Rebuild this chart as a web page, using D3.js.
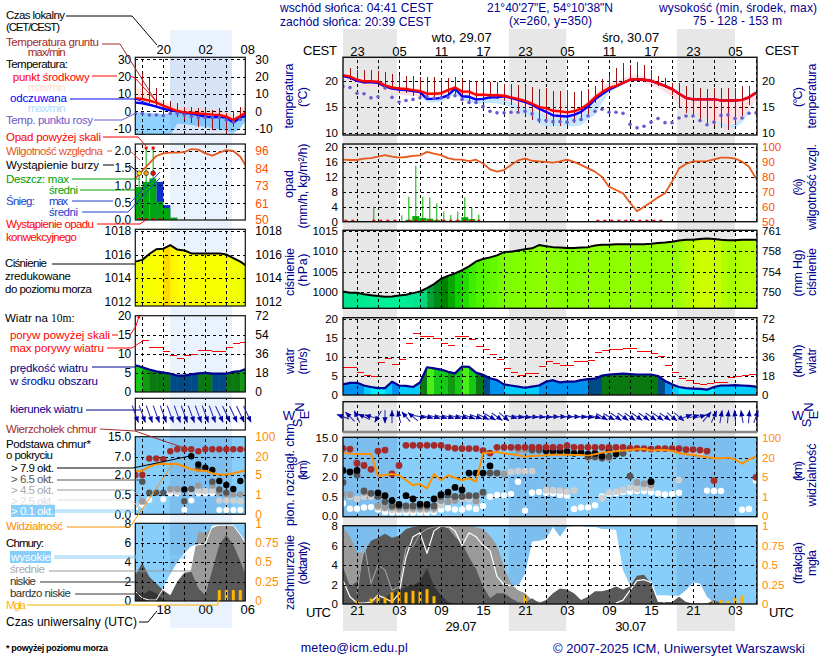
<!DOCTYPE html>
<html>
<head>
<meta charset="utf-8">
<script src="https://cdn.jsdelivr.net/npm/d3@7"></script>
<style>
  body { margin: 0; background: #fff; }
  text { font-family: "Liberation Sans", Arial, sans-serif; }
</style>
</head>
<body>
<div id="chart"></div>
<script>
// MAIN COLUMN DATA - one value per hour, hour 0 = 19 UTC on 28.07
const midTemp = [21.2,20.9,20.3,20,20,19.9,19.2,18.8,18.6,18.5,
  18.3,18.1,17.6,17.6,17.7,18.3,18.8,18,18,17.4,
  17.4,17.3,17.3,17.2,16.9,16.6,16.2,15.7,15,14.8,
  14.3,14.2,14,14.2,14.7,15.6,16.9,17.9,18.7,19.1,
  19.7,20.3,20.4,20.3,20.1,19.6,19.1,18.5,17.6,16.8,
  16.5,16.5,16.5,16.5,16.3,16.3,16.3,16.4,16.9,17.8];
const feelsTemp = [21,20.7,20.1,19.8,19.8,19.7,19,18.6,18.4,18.3,
  18.1,17.9,16.6,16.6,16.8,17.3,18.6,17.1,17,16.5,
  16.6,16.9,16.9,17.1,16.8,16.4,16,15.5,14.7,14.1,
  13.4,13.3,13.2,13.5,14.1,15.1,16.5,17.5,18.4,19,
  19.7,20.3,20.4,20.3,20.1,19.6,19.1,18.5,17.6,16.8,
  16.5,16.5,16.5,16.5,16.3,16.3,16.3,16.4,16.9,17.8];
const tempMax = [21.6,21.3,20.7,20.4,20.4,20.3,19.6,19.2,19,18.9,
  18.7,18.5,18,18,18.1,18.7,19.2,18.4,18.4,17.8,
  17.8,17.7,17.7,17.6,17.3,17,16.6,16.1,15.4,15.2,
  14.7,14.6,14.4,14.6,15.1,16.1,17.6,18.8,19.6,20,
  20.6,21.1,21.2,21,20.6,20,19.5,18.9,18,17.2,
  16.9,16.9,16.9,16.9,16.7,16.7,16.7,16.8,17.4,18.3];
const tempMin = [20.4,20,19.6,19,18.8,18.6,18.2,17.9,17.5,17.3,
  17.2,17.2,17,17,17.1,17.8,18.2,17.5,17.3,17,
  16.8,16.8,16.7,16.4,16,15.5,15,14.5,14,13.5,
  13,12.9,12.9,13.2,13.6,14.6,15.7,16.9,17.9,18.7,
  19.3,19.9,20,19.8,19.3,18.8,18,17,15.5,14.5,
  14,13.4,13,12.4,12,11.6,11.8,13,14.5,16.5];
const feelsMin = [20.4,20,19.6,19,18.8,18.6,18.2,17.9,17.5,17.3,
  17.2,17.2,15.9,15.9,16,16.7,17.6,16.4,16,15.7,
  15.7,15.8,15.7,15.4,15,14.3,13.5,12.9,11.7,11.3,
  11.3,11.3,11.3,11.3,11.5,12.6,13.5,15.8,17.7,18.7,
  19.3,19.9,20,19.8,19.3,18.8,18,17,15.5,14.5,
  14,13.4,13,12.4,11.4,11,11.1,12,14,16.5];
const groundMax = [null,22.5,22.2,22.2,22.1,22,21.8,21.4,21.3,21.1,
  21,20.9,20.8,20.8,20.5,20.6,20.8,20.4,20.3,20,
  19.9,19.8,19.8,19.5,19.4,19.2,19,18.9,18.5,18.8,
  18.2,18.2,18.3,18,18.2,18.5,19.1,20.4,21.2,22.5,
  23.5,23.1,23.7,23.1,22.2,21,20.6,19.7,19.6,19.1,
  19.3,18.7,18.5,18.7,18.8,18.7,18.8,19.1,19.1,null];
const groundMin = [null,20.3,19.9,19.5,19.6,19.4,18.9,18.5,17.8,17.8,
  17.2,17.1,16.5,16.5,16.5,16.9,17.6,16.4,16.2,16,
  16.2,16.5,16.5,16.2,15.4,14.2,13.2,12.6,12,11.9,
  11.4,11.4,11.4,11.9,12.9,13.5,15.8,17.7,18.7,19.1,
  19.6,20,20,19.9,19.6,19.1,18.7,17.4,15.1,13.8,
  13.2,12.6,11.9,11.4,11,10.6,11.6,13.2,15.4,null];
const dewPoint = [19,18.8,17.7,17.6,16.8,17,18.7,16.9,16,16.3,
  16.5,16.8,17,16.7,16.8,16.9,17.2,16.5,15.9,15.9,
  15.1,14.2,13.9,13.9,14,14,14.2,13.7,12.5,12.4,
  12.2,12.2,12.1,12.4,12.6,13.3,14.2,14.6,14,14,
  13.8,11.7,11,11.3,12.1,12.8,12,12,12.9,13.3,
  13.3,12.4,11.6,12.1,13.4,13.5,12.8,12.9,13.8,13.9];
const humidity = [91.5,91.3,91.3,92.2,92.6,93.5,94.6,93.5,92.9,93.3,
  94,94.4,96.7,95.5,94.6,92.6,91.5,91.5,90.6,91.5,
  89,85,83.5,84.6,88,91,92.2,90.8,90.4,90,
  89.5,90.4,91.5,90,88,85.7,83.5,80,73.4,71.2,
  69,62.7,57,60,63,66.3,69,76.8,85.7,88.6,
  90.4,90.4,90.6,91.7,92.9,92.9,92.2,90.2,86.8,79];
const pressure = [1000.2,999.9,999.9,999.5,999.3,999.1,998.9,999,999.2,999.4,
  999.8,1000.2,1001,1002,1003.3,1004,1004.6,1005.4,1006.3,1007.5,
  1008.1,1008.5,1009,1009.8,1009.9,1010.2,1010.5,1010.7,1011.5,1011.2,
  1011,1010.9,1010.8,1010.8,1010.9,1011,1011.4,1011.6,1011.6,1011.7,
  1011.7,1011.7,1011.7,1011.7,1011.8,1012,1012.1,1012.3,1012.6,1012.8,
  1012.8,1013,1013.1,1013,1012.8,1012.7,1012.7,1012.8,1012.8,1012.8];
const windSpeed = [2.8,3.2,3.2,2.5,2.1,1.8,1.8,3.5,2.5,2.4,
  2.1,3.3,7.3,7,6.7,6.1,5.7,7.5,7.4,5.9,
  5.3,4.4,3.9,2.8,2.5,2.2,1.9,2.2,2.5,3.5,
  3.9,3.3,3.5,3.5,3.9,4.2,4.3,5.1,5.4,5.5,
  5.6,5.5,5.4,5.4,5.4,5,3.7,2.8,2.1,1.8,
  1.7,1.6,1.4,2.1,2.5,2.5,2.6,2.5,2.4,2.2];
const windGust = [7.3,7.3,6,5.2,4.8,8.6,9.6,8.1,9.4,13.6,
  16.2,15.4,15.4,14.9,13.6,13,15.4,15.4,14.6,12.7,
  12,10.7,9.4,7,6,5.2,5.7,5.7,7.5,8.7,
  8.3,7.8,7.8,8.7,8.7,9.1,11.3,11.6,12.1,12.1,
  12.3,12.3,11.5,11.5,10.8,10.2,7.8,5.8,4.4,3.9,
  3.1,2.8,3.1,3.4,3.4,4.5,4.9,5.1,5.4];
const windBearing = [290,315,335,295,285,210,180,0,345,320,
  310,100,105,105,105,105,105,105,110,110,
  115,120,125,130,105,100,100,95,95,95,
  90,90,90,90,95,100,105,120,120,125,
  125,125,125,125,125,125,125,130,130,70,
  75,75,40,25,10,5,355,350,5,20];
const visibility = [42.7,38.7,37,37,37,6,6.8,7.6,6.6,4.4,
  3.4,3.6,2.7,7.6,4.4,6.6,4.9,4.4,4.8,4.1,
  40,42.7,45.3,40,36,32,26.7,29.3,30.7,32,
  34.7,34.7,34.7,33.3,33.3,30.7,36,42.7,45.3,48,
  50.7,53,56,57,50.7,53,53,49,40,36,
  33.3,29.3,24,20,20,22.7,19.2,15.8,19.2,26.7];
const cloudHigh = [2.4,0.75,0.1,0.1,0.2,0.9,0.6,0.2,1.1,4.8,
  6.9,7.3,5.2,7.5,8,8,7.5,6,7.3,6.9,
  6,5.5,2.8,2,1.9,1.8,3.1,6.4,6.5,6.7,
  7.9,6.9,7.9,8,8,7.9,7.9,7.7,7.7,7.6,
  3.5,1.9,1.4,0.9,0.9,0.9,0.9,0.85,0.85,1.4,
  2.2,2.1,0.75,0.1,0,0,0,0,0,0];
const cloudMid = [7.9,6.9,5.3,5.2,6,6,6,6,6,6,
  6,6,6,6,7,7.9,8,8,8,7.9,
  7.7,7,6,3.8,2.1,1.4,1.1,0.4,0.25,0.1,
  0,0,0,0,0,0,0,0,0,0,
  0,0,0,0,0,0,0,0,0,0,
  0,0,0,0,0,0,0,0,0,0];
const cloudLow = [3.8,1.8,2.3,5.2,6.5,6.8,7.2,6.8,7,7.7,
  7.9,8,8,8,8,7.8,6.9,6.2,4.8,3.6,
  1.8,0.6,1.1,1.1,0.6,0.2,0.1,0.6,0.1,0.4,
  1.1,1.6,1.5,1.1,0.4,0.75,1.3,1.3,1.5,1.8,
  1.5,1.8,2.9,3,2.1,0.2,0.2,0.2,0.75,0.2,
  0.05,0.05,0.05,0.4,0.07,0,0,0,0,0];
const cloudVeryLow = [0,0,0,0,0,0.3,0.7,1.1,1.4,1.8,
  1.9,2.3,3.7,1.8,0.9,0.2,0,0,0,0];
const cloudWhiteLine = [2.4,0.75,0.1,0.1,0.2,0.9,0.6,0.2,1.1,4.8,
  6.9,7.3,5.2,7.5,8,8,7.5,6,7.3,6.9,
  6,5.5,2.8,2,1.9,1.8,null,null,null,null,
  null,null,null,null,null,null,null,null,null,0.1,
  0.4,1.4,2.4,2.5,2.2,0.4,0.2];
const cloudGreyLine = [null,null,1.1,6.2,2.1,4,3.5,1.4,1.8,5.7,
  5.9,7.2,7.7,7.9,8,8];
const fog = [[2,.04],[4,.07],[5,.11],[6,.085],[7,.15],[8,.16],[9,.15],[10,.17],[11,.16],[12,.19],[13,.1],
  [26,.11],[53,.04],[54,.05],[55,.04],[56,.08],[57,.11]];
// PRECIPITATION - hour, value
const rainMax = [[4,4],[8,1.7],[9,6.7],[10,15],[11,6.7],[12,6.5],[13,4.9],[14,2.7],[15,1.8],[16,2.7],[17,6.5],[18,3.8],[19,1.9]];
const rainMean = [[9,.5],[10,1.5],[11,1],[12,.8],[13,.4],[14,.3],[15,.2],[16,.3],[17,1.2],[18,.7],[19,.2]];
const convectiveHours = [0,1,4,5,6,7,9,10,11,12,13,14,15,16,17,18,19,36,37,38,39,40,41,42,43,44,45];
// CLOUD BASE DOTS - hour, km
const cloudTop = [[0,11],[1,10.7],[2,5.7],[3,5.1],[4,4.1],[5,9.9],[6,10.3],[7,2.9],[8,5.1],[9,12.2],[10,12.2],[11,12.2],[12,12.2],[13,12.2],[14,12.2],
  [15,11.4],[16,11],[17,10.9],[18,10.9],[19,10.9],[20,10.1],[21,9.1],[22,11.4],[23,11.4],[24,11.4],[25,11.4],[26,11.4],[27,11.4],[28,11.4],[29,11.4],[30,11.4],[31,11.4],
  [32,12.1],[33,11.4],[34,11.4],[35,11.4],[36,11.4],[37,11.4],[38,11.4],[39,11.4],[40,11.4],[41,11],[42,11],[43,10.9],[44,10.7],[45,10.9],[46,10.9],[47,10.9],[48,10.9],
  [49,10.5],[50,10.5],[51,10.3],[52,9.9],[53,1.75],[59,2]];
const base79 = [[0,3.8],[1,3.4],[2,3.8],[5,.8],[6,.58],[7,.4],[8,.3],[9,.58],[10,.44],[11,.31],[12,.3],[13,.44],[14,.66],[15,.86],[16,1.22],[17,1.02],
  [18,3.1],[19,3.1],[20,3.1],[21,5],[29,10],[30,9.8],[31,9.7],[32,9.8],[33,9],[34,9.3],[35,8.7],[36,9],[37,7.9],[38,10.3],[39,8.7],[44,1.66]];
const base65 = [[0,1.6],[2,2.6],[3,.94],[4,.76],[5,.52],[6,.37],[7,.26],[8,.26],[9,.26],[10,.26],[11,.26],[12,.26],[13,.26],[14,.52],[15,.63],[16,.52],[17,.52],[18,.58],[19,.58],[20,.86],
  [21,3.1],[22,3.1],[27,10.3],[28,10.3],[35,7.7],[36,7.7],[37,7.1],[38,7.7],[40,9],[41,2.3],[44,1.66]];
const base45 = [[0,.7],[1,.66],[3,.84],[4,.76],[5,.26],[6,.22],[7,.22],[8,.2],[9,.2],[10,.2],[11,.2],[12,.2],[13,.2],[14,.4],[15,.37],[16,.4],[17,.5],[18,.58],[19,.39],[20,.76],
  [21,3.1],[22,3.1],[23,2.9],[25,10.3],[26,10.3],[35,7.3],[36,7.3],[37,7],[38,7],[40,9],[42,1.6],[43,1.5],[44,1.4]];
const base25 = [[0,.63],[1,.5],[2,.44],[3,.5],[4,.5],[5,.22],[6,.2],[7,.16],[8,.16],[9,.16],[10,.16],[11,.16],[12,.16],[13,.16],[14,.28],[16,.46],[17,.46],[18,.43],[19,.37],
  [22,3],[24,3.4],[25,3.6],[26,3.6],[27,3.6],[29,1],[30,1],[31,.97],[32,.89],[33,.97],[37,.46],[38,.84],[39,.89],[40,1],[41,1.2],[42,1.1],[43,1.2],[44,1.2],[48,1.8],[50,9.7],[51,9]];
const base01 = [[0,.33],[1,.19],[2,.19],[3,.22],[4,.23],[5,.17],[6,.1],[7,.09],[8,.09],[9,.09],[10,.09],[11,.09],[12,.09],[13,.11],[14,.17],[15,.2],[16,.17],[17,.17],[18,.22],[19,.18],
  [20,.26],[21,.5],[22,.63],[23,.6],[24,.72],[25,1.66],[26,.14],[27,.8],[28,.86],[29,.8],[30,.76],[31,.63],[32,.58],[33,.18],[34,.22],[35,.22],[36,.28],[37,.52],[38,.72],[39,.76],
  [40,.86],[41,.88],[42,.94],[43,.94],[44,.84],[45,.76],[46,.67],[47,.72],[48,.8],[52,.97],[53,.94],[54,.94],[57,.16],[58,.18],[59,1.75]];

// LEFT (LEGEND) COLUMN DATA - hour 0 = 14 UTC
const leftMid = [7.5,7.1,6.2,5,3.3,1.7,0.2,-0.6,-0.8,-1.2,-1.5,-1.9,-2.1,-3,-5,-2.7,-0.2];
const leftFeels = [5,4.6,3.7,2.7,1.5,.6,0,-.8,-1.3,-2.1,-3,-3.5,-3.1,-3.6,-6.5,-3.5,-2.5];
const leftMax = [14.2,12.3,10,6.9,5.6,3.7,2.7,2.3,1.7,1.7,1.7,1.2,.8,-.2,-2.1,.8,3.7];
const leftFeelsTop = [-.5,-.7,-1,-1.2,-1.5,-1,-.2,-.8,-1.3,-2.1,-3,-3.5,-3.1,-3.6,-6.5,-3.5,-2.5];
const leftFeelsMin = [-14,-14,-14,-14,-14,-14,-7,-7.4,-7.9,-8.5,-8.8,-9.8,-10.4,-11.2,-12.7,-9.8,-4];
const leftGroundMax = [null,22.3,19.2,13.3,6.5,6,4.6,2.7,2.3,1.7,1.7,.8,1.7,-1.2,.4,2.7,null];
const leftGroundMin = [null,8.5,4.6,1.7,-2.1,-2.1,-3,-5,-6.9,-8.8,-8.8,-10.8,-10.8,-12.7,-8.8,-5.4,null];
const leftDew = [-1.2,-1.2,-2.1,-2.1,-2.5,-1.2,-1.2,-2.1,-3,-3.5,-3.5,-3.5,-3.5,-5,-6.3,-4.6,-1.2];
const leftHumidity = [77.6,82.7,87.6,92.5,94.2,94.7,94.7,95,97.1,96.7,94.2,92.7,94.7,96.4,95.8,92,84.3];
const leftRainMean = [.95,1.1,1.2,.53,.34,.07];
const leftSnowMean = [0,0,0,1.1,.43,0];
const leftRainMax = [1.35,2.1,2.1];
const leftOverScale = [1,2];
const leftThunder = ["#ffe000","#f0a000","#e01010"];
const leftConvective = [0,1,2,3];
const leftPressure = [1015.4,1015.55,1016.05,1016.45,1016.5,1016.8,1016.42,1016.35,1016.1,1016.1,1016.1,1016.1,1016.1,1016,1015.7,1015.4,1015];
const leftWind = [7,6.5,5.9,5.4,5.1,4.8,4.3,4.3,4.6,4.9,5,4.8,4.8,4.8,5.3,5.5,6.2];
const leftGust = [null,13.5,11.6,11.6,10.6,9.6,8.8,9.6,9.9,10.8,10.8,10.6,10.6,11.7,12.6,13];
const leftBearing = [160,160,160,160,160,160,160,160,160,160,160,160,155,155,155,155,155];
const leftVisibility = [8.3,8.5,11.8,14,14,14,14,11.8,9.9,8.5,8.5,6.4,5.5,5.5,6.4,7.7,9.4];
const leftCloudTop = [[0,2],[1,2],[2,6.5],[3,6.5],[4,6.3],[5,9.2],[6,10],[7,10],[8,10],[9,9.2],[10,10],[11,10],[12,10],[13,10],[14,10],[15,10],[16,10]];
const leftBase79 = [[7,.92],[8,7.2],[9,4.9],[10,4],[11,3.4],[12,1.55],[13,1.25],[14,.95],[15,1.55],[16,1.9]];
const leftBase65 = [[1,1.5],[2,.68],[3,.68],[4,.68],[7,.34],[8,.95],[9,3.8],[11,1.5],[12,.92],[13,.68]];
const leftBase45 = [[1,.34],[5,.95],[6,.95],[9,1.2],[11,1.2],[12,.68],[13,.55],[14,.55],[15,.55]];
const leftBase25 = [[0,.24],[1,.32],[5,.83],[6,.75],[8,.75],[9,.83],[10,.8],[11,.83],[12,.36],[13,.36],[14,.36],[15,.34]];
const leftBase01 = [[0,.18],[1,.24],[2,.37],[4,.39],[5,.62],[6,.62],[7,.12],[8,.36],[9,.62],[10,.62],[11,.62],[12,.11],[13,.11],[14,.11],[15,.11]];
const leftCloudHigh = [1,.3,.1,.1,1.3,2.7,3.9,4.9,5.6,5.8,5.9,7.7,7.8,7.8,7.8,6.8,5.9];
const leftCloudMid = [0,0,0,0,0,0,0,0,3.4,7.1,7,7.5,7.9,7.9,7.8,6.8,5.6];
const leftCloudLow = [2.7,3.9,2.5,1.8,1.1,.6,2,2.9,3,1.3,.6,3.2,5.8,6.8,5.8,4.1,2.3];
const leftCloudVeryLow = [1.1,.6,1.1,.8,.1,0];
const leftFog = [[12,.14],[13,.14],[14,.14],[15,.14]];

// AXIS TICKS AND LABELS
const localHours = [2,8,14,20,26,32,38,44,50,56];
const localLabels = ["23","05","11","17","23","05","11","17","23","05"];
const utcLabels = ["21","03","09","15","21","03","09","15","21","03"];
const leftLabelHours = [4,10,16];
const leftLocalLabels = ["20","02","08"];
const leftUtcLabels = ["18","00","06"];
const nightHours = [[0,7.7],[23.7,31.9],[47.7,56]];
const leftNightHours = [4.95,13.8];

const FRAME = {width: 820, height: 660};
const NAVY = "#000090", ORANGE = "#ff8c00", RH = "#e8581c";
const MAIN_TICK = 11.5, LEFT_TICK = 12;

const svg = d3.select("#chart").append("svg")
  .attr("width", FRAME.width).attr("height", FRAME.height);
const defs = svg.append("defs");
let clipCount = 0;

// SCALES
const xMain = d3.scaleLinear().domain([0, 59.14]).range([343, 757]);
const xLeft = d3.scaleLinear().domain([0, 15.71]).range([135.3, 245.3]);
const mainHours = d3.range(60);
const leftHours = d3.range(17);

const pressureColor = d3.scaleLinear()
  .domain([999, 1000.5, 1001.2, 1003.5, 1005, 1007, 1010, 1012.6, 1012.95, 1016.6, 1016.64])
  .range(["#00f098","#00e088","#00a840","#007a00","#10d000","#40f000","#80ff00","#99ff00","#ccff00","#ffff00","#ffd800"])
  .clamp(true);
const windColor = d3.scaleThreshold()
  .domain([2, 2.8, 4.2, 4.9, 5.7, 6.3, 7])
  .range(["#00eeff","#00ccff","#0090f0","#004a88","#0a7a10","#109a10","#18c818","#48f018"]);

// HELPERS
function panel(x, top, bottom, fill) {
  const [left, right] = x.range();
  const id = "clip" + (++clipCount);
  defs.append("clipPath").attr("id", id).append("rect")
    .attr("x", left).attr("y", top).attr("width", right - left).attr("height", bottom - top);
  const g = svg.append("g");
  if (fill) g.append("rect").attr("x", left).attr("y", top)
    .attr("width", right - left).attr("height", bottom - top).attr("fill", fill);
  return {x, top, bottom, left, right, g: g.append("g").attr("clip-path", `url(#${id})`), outer: g};
}

function grid(p, vHours, y, yTicks) {
  const style = sel => {
    sel.select(".domain").remove();
    sel.selectAll("line").attr("stroke", "#000").attr("stroke-dasharray", "3,3").attr("shape-rendering", "crispEdges");
  };
  p.g.append("g").attr("transform", `translate(0,${p.bottom})`)
    .call(d3.axisBottom(p.x).tickValues(vHours).tickSize(-(p.bottom - p.top)).tickFormat(""))
    .call(style);
  p.g.append("g").attr("transform", `translate(${p.left},0)`)
    .call(d3.axisLeft(y).tickValues(yTicks).tickSize(-(p.right - p.left)).tickFormat(""))
    .call(style);
}

function frame(p, thick) {
  p.outer.append("rect").attr("x", p.left).attr("y", p.top)
    .attr("width", p.right - p.left).attr("height", p.bottom - p.top)
    .attr("fill", "none").attr("stroke", "#111").attr("stroke-width", thick ? 1.4 : 1.2);
}

function ticks(p, y, values, side, color, padding, size, fmt) {
  const axis = (side === "left" ? d3.axisLeft(y) : d3.axisRight(y))
    .tickValues(values).tickSize(0).tickPadding(padding).tickFormat(fmt || (d => d));
  svg.append("g").attr("transform", `translate(${side === "left" ? p.left : p.right},0)`)
    .call(axis)
    .call(sel => sel.select(".domain").remove())
    .selectAll("text").attr("fill", color).attr("font-size", size)
    .style("font-family", "'Liberation Sans', Arial, sans-serif");
}

function areaFill(p, y0Values, y1Values, y, color, hours) {
  const area = d3.area().defined((d, i) => y0Values[i] != null && y1Values[i] != null)
    .x(d => p.x(d)).y0((d, i) => y(y0Values[i])).y1((d, i) => y(y1Values[i]));
  p.g.append("path").attr("d", area(hours)).attr("fill", color);
}

function curve(p, values, y, color, width, hours) {
  const line = d3.line().defined((d, i) => values[i] != null && i < values.length)
    .x(d => p.x(d)).y((d, i) => y(values[i]));
  p.g.append("path").attr("d", line(hours)).attr("fill", "none")
    .attr("stroke", color).attr("stroke-width", width).attr("stroke-linejoin", "round");
}

function columns(p, values, y, colorOf, hours) {
  const id = "clip" + (++clipCount);
  const area = d3.area().x(d => p.x(d)).y0(p.bottom).y1((d, i) => y(values[i]));
  defs.append("clipPath").attr("id", id).append("path").attr("d", area(hours));
  p.g.append("g").attr("clip-path", `url(#${id})`)
    .selectAll("rect").data(d3.pairs(hours)).enter().append("rect")
    .attr("x", d => p.x(d[0])).attr("width", d => p.x(d[1]) - p.x(d[0]) + 0.5)
    .attr("y", p.top).attr("height", p.bottom - p.top)
    .attr("fill", d => colorOf((values[d[0]] + values[d[1]]) / 2));
}

function bars(p, rows, y, color, width, offset) {
  p.g.append("g").selectAll("rect").data(rows).enter().append("rect")
    .attr("x", d => p.x(d[0] + offset) - width / 2).attr("width", width)
    .attr("y", d => y(d[1])).attr("height", d => y(0) - y(d[1]))
    .attr("fill", color);
}

function dots(p, rows, y, color, r) {
  p.g.append("g").selectAll("circle").data(rows).enter().append("circle")
    .attr("cx", d => p.x(d[0])).attr("cy", d => y(d[1])).attr("r", r).attr("fill", color);
}

function groundBars(p, maxes, mins, y) {
  const rows = maxes.map((d, i) => [i, d, mins[i]]).filter(d => d[1] != null);
  p.g.append("g").selectAll("line").data(rows).enter().append("line")
    .attr("x1", d => p.x(d[0])).attr("x2", d => p.x(d[0]))
    .attr("y1", d => y(d[1])).attr("y2", d => y(d[2]))
    .attr("stroke", "#a01010").attr("stroke-width", 1).attr("shape-rendering", "crispEdges");
}

function gustSteps(p, gusts, y) {
  const rows = gusts.map((d, i) => [i, d]).filter(d => d[1] != null);
  p.g.append("g").selectAll("line").data(rows).enter().append("line")
    .attr("x1", d => p.x(d[0])).attr("x2", d => p.x(d[0] + 1))
    .attr("y1", d => y(d[1])).attr("y2", d => y(d[1]))
    .attr("stroke", "#ff0000").attr("stroke-width", 1).attr("shape-rendering", "crispEdges");
}

function arrows(p, bearings, length) {
  const mid = (p.top + p.bottom) / 2;
  const a = svg.append("g").selectAll("g").data(bearings).enter().append("g")
    .attr("transform", (d, i) => `translate(${p.x(i)},${mid}) rotate(${d})`);
  a.append("line").attr("y1", length / 2).attr("y2", -length / 2)
    .attr("stroke", "#2020b0").attr("stroke-width", 1);
  a.append("path").attr("d", `M0,${-length / 2}L-2.6,${-length / 2 + 6}L2.6,${-length / 2 + 6}Z`)
    .attr("fill", "#0000a0");
}

// width = the width the text takes in the reference
function label(x, y, txt, color, width, size, anchor) {
  const t = svg.append("text").attr("x", x).attr("y", y).attr("dy", "0.35em")
    .attr("fill", color).attr("font-size", size || 11.5)
    .attr("text-anchor", anchor || "start").text(txt);
  if (width) t.attr("textLength", width).attr("lengthAdjust", "spacing");
  return t;
}

function vLabel(x, y, txt, width, color, size) {
  const t = svg.append("text").attr("transform", `translate(${x},${y}) rotate(-90)`)
    .attr("dy", "0.35em").attr("text-anchor", "middle")
    .attr("fill", color || NAVY).attr("font-size", size || 12.5).text(txt);
  if (width) t.attr("textLength", width).attr("lengthAdjust", "spacing");
}

function leader(points, color) {
  svg.append("path").attr("d", d3.line()(points)).attr("fill", "none")
    .attr("stroke", color).attr("stroke-width", 1);
}

// NIGHT BANDS
svg.append("g").selectAll("rect").data(nightHours).enter().append("rect")
  .attr("x", d => xMain(d[0])).attr("width", d => xMain(d[1]) - xMain(d[0]))
  .attr("y", 29).attr("height", 602).attr("fill", "#e7e7e7");
svg.append("rect").attr("x", xLeft(leftNightHours[0])).attr("width", xLeft(leftNightHours[1]) - xLeft(leftNightHours[0]))
  .attr("y", 30).attr("height", 598).attr("fill", "#eaf2fd");

const mainGrid = d3.range(2, 60, 3);
const leftGrid = d3.range(1, 17, 3);

// temperature
{
  const p = panel(xMain, 57.3, 135);
  const y = d3.scaleLinear().domain([10, 20]).range([133, 81.3]);
  areaFill(p, feelsMin, feelsTemp.map(d => d + 0.2), y, "#c4e6ff", mainHours);
  areaFill(p, tempMin, tempMax, y, "#ffdfe2", mainHours);
  grid(p, mainGrid, y, [10, 15, 20]);
  groundBars(p, groundMax, groundMin, y);
  curve(p, feelsTemp, y, "#0000ff", 2.4, mainHours);
  curve(p, midTemp, y, "#ff0000", 2.4, mainHours);
  dots(p, dewPoint.map((d, i) => [i, d]), y, "#6a5acd", 1.8);
  frame(p, true);
  ticks(p, y, [10, 15, 20], "left", "#000", 5, MAIN_TICK);
  ticks(p, y, [10, 15, 20], "right", "#000", 5, MAIN_TICK);
}
{
  const p = panel(xLeft, 57.3, 134.3);
  const y = d3.scaleLinear().domain([-10, 30]).range([128.7, 59.3]);
  areaFill(p, leftFeelsMin, leftFeelsTop, y, "#8fd2ff", leftHours);
  areaFill(p, leftFeels, leftMax, y, "#ffe6da", leftHours);
  p.g.append("rect").attr("x", xLeft(leftNightHours[0])).attr("width", xLeft(leftNightHours[1]) - xLeft(leftNightHours[0]))
    .attr("y", p.top).attr("height", p.bottom - p.top).attr("fill", "#2050c0").attr("opacity", 0.09);
  grid(p, leftGrid, y, [20, 10, 0, -10, 30]);
  groundBars(p, leftGroundMax, leftGroundMin, y);
  curve(p, leftFeels, y, "#0000ff", 2.4, leftHours);
  curve(p, leftMid, y, "#ff0000", 2.4, leftHours);
  dots(p, leftDew.map((d, i) => [i, d]), y, "#6a5acd", 1.8);
  frame(p);
  ticks(p, y, [30, 20, 10, 0, -10], "left", "#000", 4, LEFT_TICK);
  ticks(p, y, [30, 20, 10, 0, -10], "right", "#000", 10, LEFT_TICK);
}

// precipitation
{
  const p = panel(xMain, 144, 221.7);
  const y = d3.scaleLinear().domain([0, 20]).range([221.7, 147]);
  const yRH = d3.scaleLinear().domain([50, 100]).range([221.7, 147]);
  grid(p, mainGrid, y, [4, 8, 12, 16, 20]);
  bars(p, rainMax, y, "#00b000", 1, 0.4);
  bars(p, rainMean, y, "#00b000", 7, 0.4);
  curve(p, humidity, yRH, RH, 1.8, mainHours);
  p.g.append("g").selectAll("rect").data(convectiveHours).enter().append("rect")
    .attr("x", d => p.x(d + 0.4) - 1.5).attr("width", 3)
    .attr("y", y(0) - 2).attr("height", 3).attr("fill", "#e01010");
  frame(p, true);
  ticks(p, y, [0, 4, 8, 12, 16, 20], "left", "#000", 5, MAIN_TICK);
  ticks(p, yRH, [50, 60, 70, 80, 90, 100], "right", "#ff5000", 5, MAIN_TICK);
}
{
  const p = panel(xLeft, 144, 220);
  const y = d3.scaleLinear().domain([0, 2]).range([220, 150.7]);
  const yRH = d3.scaleLinear().domain([50, 96]).range([220, 150.7]);
  const snowRows = leftSnowMean.map((d, i) => [i, d]);
  const rainRows = leftRainMean.map((d, i) => [i, d]);
  bars(p, snowRows, y, "#1030c8", 7, 0.5);
  bars(p, rainRows, y, "#00a810", 7, 0.5);
  grid(p, leftGrid, y, [0.5, 1, 1.5, 2]);
  bars(p, leftRainMax.map((d, i) => [i, d]), y, "#00a810", 1, 0.55);
  curve(p, leftHumidity, yRH, RH, 1.8, leftHours);
  p.g.append("g").selectAll("rect").data(leftConvective).enter().append("rect")
    .attr("x", d => p.x(d + 0.55) - 1.5).attr("width", 3)
    .attr("y", y(0) - 2).attr("height", 3).attr("fill", "#e01010");
  p.outer.append("g").selectAll("rect").data(leftOverScale).enter().append("rect")
    .attr("x", d => p.x(d + 0.55) - 1.5).attr("width", 3).attr("y", p.top + 2.5).attr("height", 3).attr("fill", "#e01010");
  p.outer.append("g").selectAll("circle").data(leftThunder).enter().append("circle")
    .attr("cx", (d, i) => p.x(i + 0.55)).attr("cy", y(1.35)).attr("r", 2.4)
    .attr("fill", d => d).attr("stroke", "#222").attr("stroke-width", 0.6);
  frame(p);
  ticks(p, y, [0, 0.5, 1, 1.5, 2], "left", "#000", 4, LEFT_TICK, d3.format(".1f"));
  ticks(p, yRH, [96, 84, 73, 61, 50], "right", "#ff5000", 10, LEFT_TICK);
}

// pressure
{
  const p = panel(xMain, 230.3, 308.3);
  const y = d3.scaleLinear().domain([1000, 1015]).range([292.3, 230.7]);
  const yMm = d3.scaleLinear().domain([750, 754, 758, 761]).range([292.3, 271.7, 251.3, 230.7]);
  columns(p, pressure, y, pressureColor, mainHours);
  grid(p, mainGrid, y, [1000, 1005, 1010, 1015]);
  curve(p, pressure, y, "#000", 2, mainHours);
  frame(p, true);
  ticks(p, y, [1000, 1005, 1010, 1015], "left", "#000", 5, MAIN_TICK);
  ticks(p, yMm, [750, 754, 758, 761], "right", "#000", 5, MAIN_TICK);
}
{
  const p = panel(xLeft, 229.3, 306);
  const y = d3.scaleLinear().domain([1012, 1018]).range([301.7, 231]);
  columns(p, leftPressure, y, pressureColor, leftHours);
  grid(p, leftGrid, y, [1012, 1014, 1016, 1018]);
  curve(p, leftPressure, y, "#000", 2, leftHours);
  frame(p);
  ticks(p, y, [1012, 1014, 1016, 1018], "left", "#000", 4, LEFT_TICK);
  ticks(p, y, [1012, 1014, 1016, 1018], "right", "#000", 10, LEFT_TICK);
}

// wind
{
  const p = panel(xMain, 317.7, 395);
  const y = d3.scaleLinear().domain([0, 20]).range([395, 319]);
  const yKm = d3.scaleLinear().domain([0, 72]).range([395, 319]);
  columns(p, windSpeed, y, windColor, mainHours);
  grid(p, mainGrid, y, [5, 10, 15, 20]);
  gustSteps(p, windGust, y);
  curve(p, windSpeed, y, "#000090", 2.2, mainHours);
  frame(p, true);
  ticks(p, y, [0, 5, 10, 15, 20], "left", "#000", 5, MAIN_TICK);
  ticks(p, yKm, [0, 18, 36, 54, 72], "right", "#000", 5, MAIN_TICK);
}
{
  const p = panel(xLeft, 315.7, 392);
  const y = d3.scaleLinear().domain([0, 20]).range([392, 315.7]);
  const yKm = d3.scaleLinear().domain([0, 72]).range([392, 315.7]);
  columns(p, leftWind, y, windColor, leftHours);
  grid(p, leftGrid, y, [5, 10, 15]);
  gustSteps(p, leftGust, y);
  curve(p, leftWind, y, "#000090", 2.2, leftHours);
  p.outer.append("circle").attr("cx", p.x(0.5)).attr("cy", y(19.6)).attr("r", 1.3).attr("fill", "#ff0000");
  frame(p);
  ticks(p, y, [0, 5, 10, 15, 20], "left", "#000", 4, LEFT_TICK);
  ticks(p, yKm, [0, 18, 36, 54, 72], "right", "#000", 10, LEFT_TICK);
}

// wind direction
{
  const p = panel(xMain, 401.7, 431.7);
  const y = d3.scaleLinear().domain([0, 1]).range([431.7, 401.7]);
  grid(p, mainGrid, y, []);
  frame(p, true);
  p.outer.append("line").attr("x1", p.left).attr("x2", p.right).attr("y1", 432).attr("y2", 432)
    .attr("stroke", "#888").attr("stroke-width", 2.5);
  arrows(p, windBearing, 13);
}
{
  const p = panel(xLeft, 398.3, 430);
  const y = d3.scaleLinear().domain([0, 1]).range([430, 398.3]);
  grid(p, leftGrid, y, []);
  frame(p);
  arrows(p, leftBearing, 18);
}

// cloud base
{
  const p = panel(xMain, 437.3, 516.7, "#87cefa");
  const y = d3.scaleLinear().domain([0, 0.5, 2, 7, 15]).range([516, 496.7, 477.3, 458.3, 438.3]);
  const yVis = d3.scaleLinear().domain([0, 1, 5, 20, 100]).range([516, 496.7, 477.3, 458.3, 438.3]);
  p.g.append("g").selectAll("rect").data(nightHours).enter().append("rect")
    .attr("x", d => xMain(d[0])).attr("width", d => xMain(d[1]) - xMain(d[0]))
    .attr("y", p.top).attr("height", p.bottom - p.top).attr("fill", "#7cbeee");
  grid(p, mainGrid, y, [0.5, 2, 7]);
  dots(p, base01, y, "#ffffff", 3.2);
  dots(p, base25, y, "#cfcfcf", 3.4);
  dots(p, base45, y, "#9a9a9a", 3.4);
  dots(p, base65, y, "#555555", 3.4);
  dots(p, base79, y, "#000000", 3.4);
  dots(p, cloudTop, y, "#a52a2a", 3.4);
  curve(p, visibility, yVis, "#ff9000", 2, mainHours);
  frame(p, true);
  ticks(p, y, [0, 0.5, 2, 7, 15], "left", "#000", 5, MAIN_TICK, d3.format(".1f"));
  ticks(p, yVis, [0, 1, 5, 20, 100], "right", ORANGE, 5, MAIN_TICK);
}
{
  const p = panel(xLeft, 436.7, 514.3, "#87cefa");
  const y = d3.scaleLinear().domain([0, 0.5, 2, 7, 15]).range([514.3, 495, 475, 456.7, 436.7]);
  const yVis = d3.scaleLinear().domain([0, 1, 5, 20, 100]).range([514.3, 495, 475, 456.7, 436.7]);
  p.g.append("rect").attr("x", xLeft(leftNightHours[0])).attr("width", xLeft(leftNightHours[1]) - xLeft(leftNightHours[0]))
    .attr("y", p.top).attr("height", p.bottom - p.top).attr("fill", "#7cbeee");
  grid(p, leftGrid, y, [0.5, 2, 7]);
  dots(p, leftBase01, y, "#ffffff", 3);
  dots(p, leftBase25, y, "#cfcfcf", 3.2);
  dots(p, leftBase45, y, "#9a9a9a", 3.2);
  dots(p, leftBase65, y, "#555555", 3.2);
  dots(p, leftBase79, y, "#000000", 3.2);
  dots(p, leftCloudTop, y, "#a52a2a", 3.2);
  curve(p, leftVisibility, yVis, "#ff9000", 2, leftHours);
  frame(p);
  ticks(p, y, [0, 0.5, 2, 7, 15], "left", "#000", 4, LEFT_TICK, d3.format(".1f"));
  ticks(p, yVis, [0, 1, 5, 20, 100], "right", ORANGE, 10, LEFT_TICK);
}

// cloud cover
{
  const p = panel(xMain, 525.7, 604, "#87cefa");
  const y = d3.scaleLinear().domain([0, 8]).range([604, 526]);
  const yFog = d3.scaleLinear().domain([0, 1]).range([604, 526]);
  const zero = mainHours.map(() => 0);
  p.g.append("g").selectAll("rect").data(nightHours).enter().append("rect")
    .attr("x", d => xMain(d[0])).attr("width", d => xMain(d[1]) - xMain(d[0]))
    .attr("y", p.top).attr("height", p.bottom - p.top).attr("fill", "#7cbeee");
  areaFill(p, zero, cloudHigh, y, "#ffffff", mainHours);
  areaFill(p, zero, cloudMid, y, "#9a9a9a", mainHours);
  areaFill(p, zero, cloudLow, y, "#595959", mainHours);
  areaFill(p, zero, cloudVeryLow, y, "#353535", mainHours.slice(0, cloudVeryLow.length));
  curve(p, cloudGreyLine, y, "#aaaaaa", 1, mainHours.slice(0, cloudGreyLine.length));
  curve(p, cloudWhiteLine, y, "#ffffff", 1.2, mainHours.slice(0, cloudWhiteLine.length));
  bars(p, fog, yFog, "#ffb400", 3, 0);
  grid(p, mainGrid, y, [2, 4, 6]);
  frame(p, true);
  ticks(p, y, [0, 2, 4, 6, 8], "left", "#000", 5, MAIN_TICK);
  ticks(p, yFog, [0, 0.25, 0.5, 0.75, 1], "right", ORANGE, 5, MAIN_TICK);
}
{
  const p = panel(xLeft, 523.3, 601, "#87cefa");
  const y = d3.scaleLinear().domain([0, 8]).range([601, 523.3]);
  const yFog = d3.scaleLinear().domain([0, 1]).range([601, 523.3]);
  const zero = leftHours.map(() => 0);
  p.g.append("rect").attr("x", xLeft(leftNightHours[0])).attr("width", xLeft(leftNightHours[1]) - xLeft(leftNightHours[0]))
    .attr("y", p.top).attr("height", p.bottom - p.top).attr("fill", "#7cbeee");
  areaFill(p, zero, leftCloudHigh, y, "#ffffff", leftHours);
  areaFill(p, zero, leftCloudMid, y, "#9a9a9a", leftHours);
  areaFill(p, zero, leftCloudLow, y, "#595959", leftHours);
  areaFill(p, zero, leftCloudVeryLow, y, "#353535", leftHours.slice(0, leftCloudVeryLow.length));
  curve(p, leftCloudHigh, y, "#ffffff", 1, leftHours);
  bars(p, leftFog, yFog, "#ffb400", 3, 0);
  grid(p, leftGrid, y, [2, 4, 6]);
  frame(p);
  ticks(p, y, [0, 2, 4, 6, 8], "left", "#000", 4, LEFT_TICK);
  ticks(p, yFog, [0, 0.25, 0.5, 0.75, 1], "right", ORANGE, 10, LEFT_TICK);
}

// TIME AXES
function timeAxis(x, hours, labels, yPos, top) {
  const axis = (top ? d3.axisTop(x) : d3.axisBottom(x)).tickValues(hours).tickSize(0).tickPadding(0)
    .tickFormat((d, i) => labels[i]);
  svg.append("g").attr("transform", `translate(0,${yPos})`).call(axis)
    .call(sel => sel.select(".domain").remove())
    .selectAll("text").attr("fill", "#000").attr("font-size", 13)
    .style("font-family", "'Liberation Sans', Arial, sans-serif");
}
timeAxis(xMain, localHours, localLabels, 56, true);
timeAxis(xMain, localHours, utcLabels, 606, false);
timeAxis(xLeft, leftLabelHours, leftLocalLabels, 54, true);
timeAxis(xLeft, leftLabelHours, leftUtcLabels, 605, false);

label(461.7, 37, "wto, 29.07", "#000", 60, 13, "middle");
label(630.7, 37, "śro, 30.07", "#000", 57, 13, "middle");
label(461, 626, "29.07", "#000", 31, 13, "middle");
label(630.7, 626, "30.07", "#000", 31, 13, "middle");
label(337, 50, "CEST", "#000", 34, 13, "end");
label(765, 50, "CEST", "#000", 34, 13);
label(331, 612, "UTC", "#000", 25, 13, "end");
label(769, 612, "UTC", "#000", 25, 13);

// HEADER AND FOOTER
label(280, 8, "wschód słońca: 04:41 CEST", NAVY, 153, 12);
label(280, 22, "zachód słońca: 20:39 CEST", NAVY, 151, 12);
label(550, 8, "21°40'27\"E, 54°10'38\"N", NAVY, 126, 12, "middle");
label(550.5, 21, "(x=260, y=350)", NAVY, 83, 12, "middle");
label(817, 8, "wysokość (min, środek, max)", NAVY, 158, 12, "end");
label(737.5, 21, "75 - 128 - 153 m", NAVY, 89, 12, "middle");
label(300.7, 648, "meteo@icm.edu.pl", NAVY, 107, 12.5);
label(553, 648, "© 2007-2025 ICM, Uniwersytet Warszawski", NAVY, 252, 13);
label(6, 648, "* powyżej poziomu morza", "#000", 102, 9).attr("font-weight", "bold");

// ROTATED PANEL TITLES
vLabel(289, 96, "temperatura", 65);
vLabel(303, 97, "(°C)", 20);
vLabel(289, 184, "opad", 28);
vLabel(303, 186, "(mm/h, kg/m²/h)", 85);
vLabel(290, 272, "ciśnienie", 48);
vLabel(303, 270, "(hPa)", 33);
vLabel(290, 361, "wiatr", 26);
vLabel(303, 361, "(m/s)", 27);
vLabel(290, 473, "pion. rozciągł. chm.", 106);
vLabel(303, 470, "(km)", 20);
vLabel(290, 572.5, "zachmurzenie", 75);
vLabel(303, 563, "(oktanty)", 43);
vLabel(812, 96, "temperatura", 65);
vLabel(798, 97, "(°C)", 20);
vLabel(812, 187, "wilgotność wzgl.", 86);
vLabel(798, 187, "(%)", 17);
vLabel(812, 272, "ciśnienie", 48);
vLabel(798, 273, "(mm Hg)", 47);
vLabel(812, 361, "wiatr", 26);
vLabel(798, 361, "(km/h)", 33);
vLabel(812, 475, "widzialność", 63);
vLabel(798, 471, "(km)", 20);
vLabel(812, 563, "mgła", 26);
vLabel(798, 563, "(frakcja)", 42);

// COMPASS LABELS
function compass(cx) {
  label(cx - 10, 415.6, "W", NAVY, null, 13, "middle");
  vLabel(cx, 407, "N", null, NAVY, 13);
  vLabel(cx + 5, 415, "E", null, NAVY, 13);
  vLabel(cx - 2, 423, "S", null, NAVY, 13);
}
compass(299);
compass(808);

// LEFT LEGEND TEXT AND LEADER LINES
label(6, 15, "Czas lokalny", "#000", 59);
label(6, 27, "(CET/CEST)", "#000", 54);
leader([[66, 16], [132, 16], [157, 45]], "#000");
label(6, 42, "Temperatura gruntu", "#a52a2a", 93);
label(27.7, 52, "max/min", "#a52a2a", 38);
leader([[102, 44], [120, 44], [157, 103]], "#a52a2a");
label(6, 64, "Temperatura:", "#000", 62);
label(12.7, 77, "punkt środkowy", "#ff0000", 77);
leader([[92, 76], [117, 76]], "#ff0000");
leader([[130, 76], [135, 78], [157, 102]], "#ff0000");
label(27.7, 87, "max/min", "#ffe0d0", 38);
label(10, 98, "odczuwana", "#0000ff", 57);
leader([[70, 99], [135, 99], [167, 110]], "#0000ff");
label(27.7, 108, "max/min", "#b0e0ff", 38);
label(6, 120, "Temp. punktu rosy", "#6a5acd", 87);
leader([[94, 120], [122, 120], [136, 113]], "#6a5acd");
label(6, 137, "Opad powyżej skali", "#ff0000", 95);
leader([[103, 137], [138, 137], [146, 146]], "#ff0000");
label(6, 151, "Wilgotność względna", RH, 97);
leader([[107, 151], [112, 151]], RH);
leader([[130, 151], [140, 160]], RH);
label(6, 165, "Wystąpienie burzy", "#000", 93);
leader([[103, 165], [114, 165]], "#000");
leader([[129, 165], [138, 172]], "#000");
label(6, 179, "Deszcz: max", "#00a000", 63);
leader([[72, 179], [139, 179]], "#00a000");
label(49, 190, "średni", "#00a000", 29);
leader([[80, 190], [138, 190]], "#00a000");
label(6, 201, "Śnieg:", "#2040d0", 29);
label(49, 201, "max", "#2040d0", 19);
leader([[72, 201], [113, 201]], "#2040d0");
leader([[130, 203], [160, 172]], "#2040d0");
label(49, 212, "średni", "#2040d0", 29);
leader([[82, 212], [128, 212], [160, 178]], "#2040d0");
label(6, 224, "Wystąpienie opadu", "#ff0000", 88);
leader([[97, 224], [140, 224], [146, 220]], "#ff0000");
label(6, 237, "konwekcyjnego", "#ff0000", 71);
label(5, 263, "Ciśnienie", "#000", 42);
leader([[52, 264], [135, 264]], "#000");
label(5, 276, "zredukowane", "#000", 66);
label(5, 289, "do poziomu morza", "#000", 87);
const windTitle = label(5, 318, "Wiatr na ", "#000");
windTitle.append("tspan").style("font-family", "'Liberation Serif', serif").text("10m");
windTitle.append("tspan").text(":");
label(10, 335, "poryw powyżej skali", "#ff0000", 100);
leader([[112, 335], [118, 335]], "#ff0000");
leader([[130, 335], [136, 326], [139, 316]], "#ff0000");
label(10, 348, "max porywy wiatru", "#ff0000", 94);
leader([[107, 348], [132, 348], [144, 340]], "#ff0000");
label(10, 368, "prędkość wiatru", NAVY, 78);
leader([[92, 367], [135, 367]], NAVY);
label(10, 381, "w środku obszaru", NAVY, 88);
label(10, 409, "kierunek wiatru", NAVY, 73);
leader([[86, 410], [140, 410]], NAVY);
label(6, 429, "Wierzchołek chmur", "#a52a2a", 91);
leader([[100, 429], [135, 431], [190, 450]], "#a52a2a");
label(6, 444, "Podstawa chmur*", "#000", 85);
label(6, 455, "o pokryciu", "#000", 47);
label(11, 468, "> 7.9 okt.", "#000", 43);
leader([[57, 468], [133, 468], [190, 456]], "#000");
label(11, 479, "> 6.5 okt.", "#555", 43);
leader([[57, 480], [135, 480], [143, 480]], "#555");
label(11, 490, "> 4.5 okt.", "#aaa", 43);
leader([[57, 490], [133, 490], [143, 500]], "#999");
label(11, 501, "> 2.5 okt.", "#ddd", 43);
leader([[57, 500], [130, 500], [137, 505]], "#ddd");
svg.append("rect").attr("x", 11).attr("y", 505).attr("width", 44).attr("height", 12).attr("fill", "#87cefa");
label(11, 511, "> 0.1 okt.", "#fff", 43);
leader([[55, 510], [135, 510]], "#87cefa");
leader([[55, 512], [135, 512]], "#87cefa");
label(6, 526, "Widzialność", "#ff8c00", 57);
leader([[67, 527], [130, 527], [172, 465]], "#ff9000");
label(6, 543, "Chmury:", "#000", 38);
svg.append("rect").attr("x", 10).attr("y", 551).attr("width", 41).attr("height", 12).attr("fill", "#87cefa");
label(11, 557, "wysokie", "#fff", 40);
leader([[54, 556], [186, 556]], "#87cefa");
leader([[54, 558], [186, 558]], "#87cefa");
label(10, 569, "średnie", "#aaa", 35);
leader([[49, 571], [192, 571]], "#999");
label(10, 581, "niskie", "#333", 26);
leader([[40, 582], [135, 582]], "#333");
label(10, 593, "bardzo niskie", "#333", 61);
leader([[75, 594], [150, 594]], "#333");
label(6, 605, "Mgła", "#ffb400", 20);
leader([[27, 605], [218, 605], [218, 600]], "#ffb400");
label(6, 622, "Czas uniwersalny (UTC)", "#000", 131, 12);
leader([[139, 622], [148, 622], [157, 611]], "#000");
</script>
</body>
</html>
